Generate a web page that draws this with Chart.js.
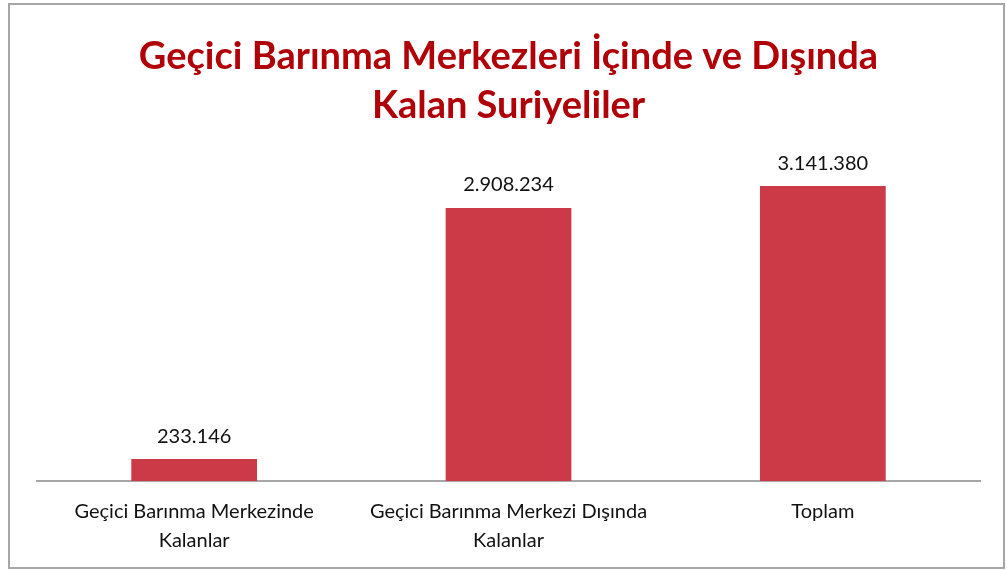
<!DOCTYPE html>
<html>
<head>
<meta charset="utf-8">
<script src="https://cdn.jsdelivr.net/npm/chart.js@4"></script>
<style>
  html, body { margin: 0; padding: 0; background: #fff; }
  #wrap { width: 1007px; height: 570px; position: relative; }
</style>
</head>
<body>
<div id="wrap"><canvas id="kalanChart" width="1007" height="570"></canvas></div>
<script>
// Kategoriler ve değerler
const kategoriler = [
    ['Geçici Barınma Merkezinde', 'Kalanlar'],
    ['Geçici Barınma Merkezi Dışında', 'Kalanlar'],
    'Toplam'
];
const kisiSayisi = [233146, 2908234, 3141380];
const baslik = ['Geçici Barınma Merkezleri İçinde ve Dışında', 'Kalan Suriyeliler'];

// Sayıları 3.141.380 biçiminde yaz
const bicimle = n => n.toString().replace(/\B(?=(\d{3})+(?!\d))/g, '.');

// Çubukların üstüne değer yazan küçük eklenti
const degerEtiketleri = {
    id: 'degerEtiketleri',
    afterDatasetsDraw(chart) {
        const ctx = chart.ctx;
        const meta = chart.getDatasetMeta(0);
        ctx.save();
        ctx.font = '20px Lato, "Open Sans", sans-serif';
        ctx.fillStyle = '#111';
        ctx.textAlign = 'center';
        ctx.textBaseline = 'middle';
        meta.data.forEach((bar, i) => {
            ctx.fillText(bicimle(kisiSayisi[i]), bar.x, bar.y - 23);
        });
        ctx.restore();
    }
};

// Grafiğin çevresindeki çerçeve
const cerceve = {
    id: 'cerceve',
    beforeDraw(chart) {
        const ctx = chart.ctx;
        ctx.save();
        ctx.strokeStyle = '#a6a6a6';
        ctx.lineWidth = 2;
        ctx.strokeRect(9, 4, 995, 564);
        ctx.restore();
    }
};

const ctx = document.getElementById('kalanChart').getContext('2d');

const kalanChart = new Chart(ctx, {
    type: 'bar',
    data: {
        labels: kategoriler,
        datasets: [{
            data: kisiSayisi,
            backgroundColor: '#cc3a48',
            borderWidth: 0,
            categoryPercentage: 1,
            barPercentage: 0.4
        }]
    },
    options: {
        responsive: false,
        animation: false,
        layout: {
            padding: { left: 37, right: 27, top: 0, bottom: 0 }
        },
        scales: {
            x: {
                grid: { display: false },
                border: { display: true, color: '#a6a6a6', width: 2 },
                ticks: {
                    color: '#111',
                    padding: 8,
                    maxRotation: 0,
                    font: { family: 'Lato, "Open Sans", sans-serif', size: 20, lineHeight: 1.45 }
                },
                afterFit: scale => { scale.height = 89; }
            },
            y: {
                display: false,
                beginAtZero: true,
                max: 3525000
            }
        },
        plugins: {
            legend: { display: false },
            tooltip: { enabled: false },
            title: {
                display: true,
                text: baslik,
                color: '#b00008',
                font: { family: 'Lato, "Open Sans", sans-serif', size: 38, weight: 'bold', lineHeight: 1.29 },
                padding: { top: 32, bottom: 20 }
            }
        }
    },
    plugins: [degerEtiketleri, cerceve]
});
</script>
</body>
</html>
